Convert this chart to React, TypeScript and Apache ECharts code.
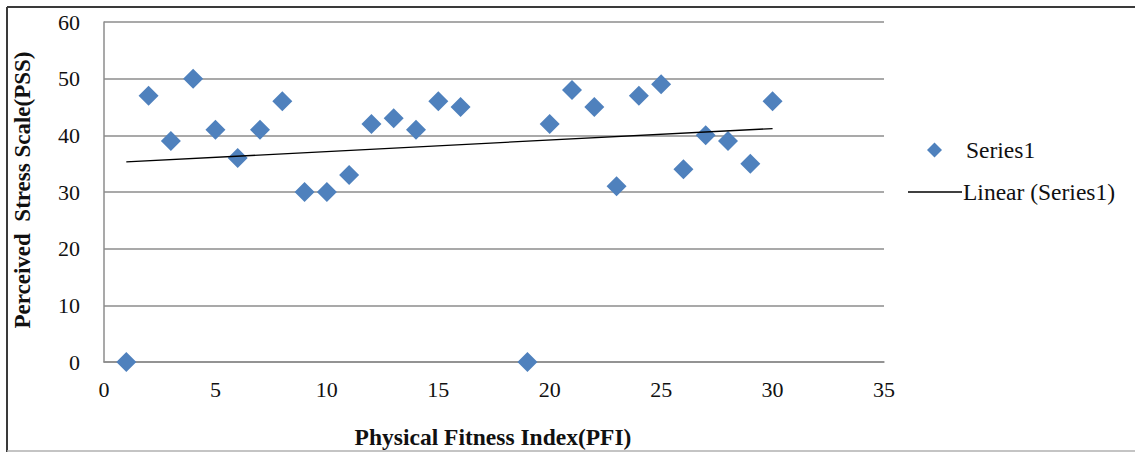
import React, { useEffect, useRef } from "react";
import * as echarts from "echarts";

const pfi = [1, 2, 3, 4, 5, 6, 7, 8, 9, 10, 11, 12, 13, 14, 15, 16, 19, 20, 21, 22, 23, 24, 25, 26, 27, 28, 29, 30];
const pss = [0, 47, 39, 50, 41, 36, 41, 46, 30, 30, 33, 42, 43, 41, 46, 45, 0, 42, 48, 45, 31, 47, 49, 34, 40, 39, 35, 46];
const trendX = [1, 30];
const trendY = [35.3, 41.2];
const xTicks = { min: 0, max: 35, interval: 5 };
const yTicks = { min: 0, max: 60, interval: 10 };
const seriesName = "Series1";
const trendName = "Linear (Series1)";
const xTitle = "Physical Fitness Index(PFI)";
const yTitle = "Perceived  Stress Scale(PSS)";

const FONT = "Liberation Serif";

export default function App() {
  const ref = useRef<HTMLDivElement>(null);
  useEffect(() => {
    document.body.style.margin = "0";
    const chart = echarts.init(ref.current!, null, { renderer: "svg" });
    chart.setOption({
      animation: false,
      backgroundColor: "#ffffff",
      textStyle: { fontFamily: FONT },
      grid: { left: 104, right: 251, top: 22, bottom: 90 },
      xAxis: {
        type: "value",
        min: xTicks.min,
        max: xTicks.max,
        interval: xTicks.interval,
        axisLine: { show: true, lineStyle: { color: "#8c8c8c", width: 1.5 } },
        axisTick: { show: false },
        splitLine: { show: false },
        axisLabel: { color: "#111111", fontSize: 22, fontFamily: FONT, margin: 16 },
      },
      yAxis: {
        type: "value",
        min: yTicks.min,
        max: yTicks.max,
        interval: yTicks.interval,
        axisLine: { show: true, lineStyle: { color: "#8c8c8c", width: 1.5 } },
        axisTick: { show: false },
        splitLine: { show: true, lineStyle: { color: "#8c8c8c", width: 1.5 } },
        axisLabel: { color: "#111111", fontSize: 22, fontFamily: FONT, margin: 24 },
      },
      legend: [
        {
          data: [{ name: seriesName, icon: "diamond" }],
          orient: "vertical",
          left: 927,
          top: 138,
          itemWidth: 15,
          itemHeight: 15,
          itemGap: 0,
          padding: 0,
          textStyle: { fontFamily: FONT, fontSize: 23.5, color: "#111111", padding: [0, 0, 0, 19] },
          selectedMode: false,
        },
        {
          data: [{ name: trendName, icon: "rect", itemStyle: { color: "#000000" } }],
          orient: "vertical",
          left: 908,
          top: 180,
          itemWidth: 54,
          itemHeight: 1.5,
          itemGap: 0,
          padding: 0,
          textStyle: { fontFamily: FONT, fontSize: 23.5, color: "#111111", padding: [0, 0, 0, -4] },
          selectedMode: false,
        },
      ],
      series: [
        {
          name: seriesName,
          type: "scatter",
          symbol: "diamond",
          symbolSize: 20,
          itemStyle: { color: "#4F81BD", opacity: 1 },
          data: pfi.map((x, i) => [x, pss[i]]),
          z: 3,
        },
        {
          name: trendName,
          type: "line",
          symbol: "none",
          lineStyle: { color: "#000000", width: 1.3 },
          itemStyle: { color: "#000000" },
          data: trendX.map((x, i) => [x, trendY[i]]),
          z: 4,
        },
      ],
      graphic: [
        {
          type: "line",
          shape: { x1: 7, y1: 7, x2: 1135, y2: 7 },
          style: { stroke: "#3a3a3a", lineWidth: 2 },
        },
        {
          type: "line",
          shape: { x1: 7, y1: 7, x2: 7, y2: 452 },
          style: { stroke: "#3a3a3a", lineWidth: 2 },
        },
        {
          type: "line",
          shape: { x1: 7, y1: 451, x2: 1135, y2: 451 },
          style: { stroke: "#b0b0b0", lineWidth: 1.5 },
        },
        {
          type: "text",
          x: 22,
          y: 190,
          rotation: Math.PI / 2,
          style: {
            text: yTitle,
            font: `bold 23px ${FONT}`,
            fill: "#111111",
            align: "center",
            verticalAlign: "middle",
          },
        },
        {
          type: "text",
          x: 493,
          y: 437,
          style: {
            text: xTitle,
            font: `bold 23.5px ${FONT}`,
            fill: "#111111",
            align: "center",
            verticalAlign: "middle",
          },
        },
      ],
    });
    return () => chart.dispose();
  }, []);
  return <div ref={ref} style={{ position: "absolute", left: 0, top: 0, width: 1135, height: 452 }} />;
}
